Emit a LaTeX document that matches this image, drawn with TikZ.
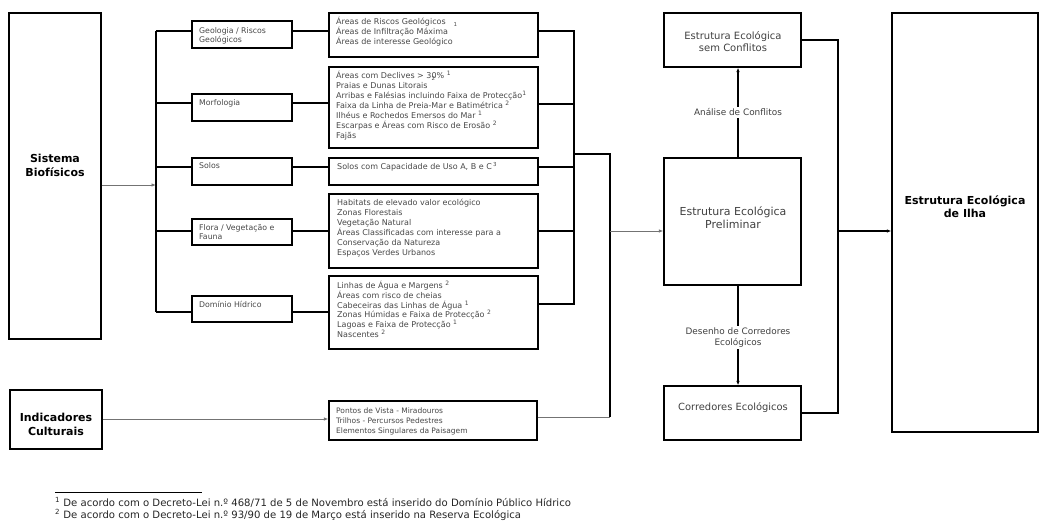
\documentclass[tikz,border=0pt]{standalone}
\usepackage{fontspec}
\setmainfont{DejaVu Sans}
\usetikzlibrary{arrows.meta}
\begin{document}
\begin{tikzpicture}[x=1pt,y=-1pt,
  box/.style={draw, line width=1.2pt, inner sep=0pt},
  conn/.style={line width=1.1pt},
  thinconn/.style={line width=0.9pt, draw=black!55},
  arr/.style={-{Latex[length=4.5pt,width=3.5pt]}},
  title/.style={align=center, inner sep=0pt, font=\fontsize{11}{13.5}\selectfont\bfseries},
  mid/.style={align=center, inner sep=0pt, text=black!75},
  lbl/.style={fill=white, align=center, inner sep=2pt, text=black!75, font=\fontsize{8.9}{11}\selectfont},
  lst/.style={anchor=north west, align=left, inner sep=0pt, text=black!72, font=\fontsize{8}{10.2}\selectfont},
  sml/.style={anchor=north west, align=left, inner sep=0pt, text=black!72, font=\fontsize{7.8}{9.5}\selectfont},
  foot/.style={anchor=base west, inner sep=0pt, text=black!85, font=\fontsize{10.1}{12}\selectfont}
]
\useasboundingbox (0,0) rectangle (1047,524);

% ---------- boxes ----------
\node[box, minimum width=92pt, minimum height=326pt] (sis) at (55,176) {};
\node[title] (sist) at (55,165.5) {Sistema\\Biofísicos};
\node[box, minimum width=92pt, minimum height=59pt] (ind) at (56,419.5) {};
\node[title] (indt) at (56,424.5) {Indicadores\\Culturais};

\node[box, minimum width=100pt, minimum height=27pt] (geo) at (242,34.5) {};
\node[box, minimum width=100pt, minimum height=27pt] (mor) at (242,107.5) {};
\node[box, minimum width=100pt, minimum height=27pt] (sol) at (242,171.5) {};
\node[box, minimum width=100pt, minimum height=26pt] (flo) at (242,232) {};
\node[box, minimum width=100pt, minimum height=26pt] (dom) at (242,309) {};
\node[sml] (geot) at (199,25.4) {\rule{0pt}{7.5pt}Geologia / Riscos\\Geológicos};
\node[sml] (mort) at (199,97.6) {\rule{0pt}{7.5pt}Morfologia};
\node[sml] (solt) at (199,160.6) {\rule{0pt}{7.5pt}Solos};
\node[sml] (flot) at (199,222.6) {\rule{0pt}{7.5pt}Flora / Vegetação e\\Fauna};
\node[sml] (domt) at (199,299.6) {\rule{0pt}{7.5pt}Domínio Hídrico};

\node[box, minimum width=209pt, minimum height=44pt] (geoL) at (433.5,35) {};
\node[box, minimum width=209pt, minimum height=81pt] (morL) at (433.5,107.5) {};
\node[box, minimum width=209pt, minimum height=27pt] (solL) at (433.5,171.5) {};
\node[box, minimum width=209pt, minimum height=74pt] (floL) at (433.5,231) {};
\node[box, minimum width=209pt, minimum height=73pt] (domL) at (433.5,312.5) {};
\node[box, minimum width=208pt, minimum height=39pt] (indL) at (433,420.5) {};

\node[lst] (geoLt) at (336,16.2) {\rule{0pt}{8pt}Áreas de Riscos Geológicos\quad\raisebox{-2.5pt}{\fontsize{5.5}{5.5}\selectfont 1}\\Áreas de Infiltração Máxima\\Áreas de interesse Geológico};
\node[lst, font=\fontsize{8}{10}\selectfont] (morLt) at (336,70.2) {\rule{0pt}{8pt}Áreas com Declives > 3\rlap{\raisebox{-2.5pt}{\fontsize{5.5}{5.5}\selectfont 2}}0\% \textsuperscript{1}\\Praias e Dunas Litorais\\Arribas e Falésias incluindo Faixa de Protecção\textsuperscript{1}\\Faixa da Linha de Preia-Mar e Batimétrica \textsuperscript{2}\\Ilhéus e Rochedos Emersos do Mar \textsuperscript{1}\\Escarpas e Áreas com Risco de Erosão \textsuperscript{2}\\Fajãs};
\node[lst] (solLt) at (337,161.2) {\rule{0pt}{8pt}Solos com Capacidade de Uso A, B e C\,\raisebox{3pt}{\fontsize{5.5}{5.5}\selectfont 3}};
\node[lst, font=\fontsize{8}{10}\selectfont] (floLt) at (337,197.2) {\rule{0pt}{8pt}Habitats de elevado valor ecológico\\Zonas Florestais\\Vegetação Natural\\Áreas Classificadas com interesse para a\\Conservação da Natureza\\Espaços Verdes Urbanos};
\node[lst, font=\fontsize{8}{9.8}\selectfont] (domLt) at (337,280.2) {\rule{0pt}{8pt}Linhas de Água e Margens \textsuperscript{2}\\Áreas com risco de cheias\\Cabeceiras das Linhas de Água \textsuperscript{1}\\Zonas Húmidas e Faixa de Protecção \textsuperscript{2}\\Lagoas e Faixa de Protecção \textsuperscript{1}\\Nascentes \textsuperscript{2}};
\node[lst, font=\fontsize{7.5}{10}\selectfont] (indLt) at (336,405) {\rule{0pt}{8pt}Pontos de Vista - Miradouros\\Trilhos - Percursos Pedestres\\Elementos Singulares da Paisagem};

\node[box, minimum width=137pt, minimum height=54pt] (sem) at (732.5,40) {};
\node[mid, font=\fontsize{10}{12}\selectfont] (semt) at (733,42) {Estrutura Ecológica\\sem Conflitos};
\node[box, minimum width=137pt, minimum height=127pt] (prel) at (732.5,221.5) {};
\node[mid, font=\fontsize{11}{13}\selectfont] (prelt) at (733,217.5) {Estrutura Ecológica\\Preliminar};
\node[box, minimum width=137pt, minimum height=54pt] (cor) at (732.5,413) {};
\node[mid, font=\fontsize{9.9}{12}\selectfont] (cort) at (733,408) {Corredores Ecológicos};
\node[box, minimum width=146pt, minimum height=419pt] (ilha) at (965,222.5) {};
\node[title] (ilhat) at (965,206.5) {Estrutura Ecológica\\de Ilha};

% ---------- helper coordinates ----------
\coordinate (b1t) at (156,31);  \coordinate (b1b) at (156,312);
\coordinate (b2t) at (574,31);  \coordinate (b2b) at (574,304);
\coordinate (b3t) at (610,154); \coordinate (b3b) at (610,417);
\coordinate (b4t) at (838,40);  \coordinate (b4b) at (838,413);
\coordinate (rl2) at (0,103); \coordinate (rl3) at (0,167); \coordinate (rl4) at (0,231); \coordinate (rl5) at (0,312);
\coordinate (rr2) at (0,104); \coordinate (rr3) at (0,167); \coordinate (rr4) at (0,231); \coordinate (rr5) at (0,304);
\coordinate (rs) at (0,185); \coordinate (ri) at (0,419); \coordinate (ax) at (738,0);

% ---------- connectors ----------
\draw[thinconn, arr] (sis.east |- rs) -- (b1t |- rs);
\draw[conn] (b1t) -- (b1b);
\draw[conn] (b1t) -- (geo.west |- b1t);
\draw[conn] (b1t |- rl2) -- (mor.west |- rl2);
\draw[conn] (b1t |- rl3) -- (sol.west |- rl3);
\draw[conn] (b1t |- rl4) -- (flo.west |- rl4);
\draw[conn] (b1b) -- (dom.west |- b1b);

\draw[conn] (geo.east |- b1t) -- (geoL.west |- b1t);
\draw[conn] (mor.east |- rl2) -- (morL.west |- rl2);
\draw[conn] (sol.east |- rl3) -- (solL.west |- rl3);
\draw[conn] (flo.east |- rl4) -- (floL.west |- rl4);
\draw[conn] (dom.east |- rl5) -- (domL.west |- rl5);

\draw[conn] (geoL.east |- b2t) -- (b2t) -- (b2b) -- (domL.east |- b2b);
\draw[conn] (morL.east |- rr2) -- (b2t |- rr2);
\draw[conn] (solL.east |- rr3) -- (b2t |- rr3);
\draw[conn] (floL.east |- rr4) -- (b2t |- rr4);

\draw[thinconn, arr] (ind.east |- ri) -- (indL.west |- ri);
\draw[conn] (b2t |- b3t) -- (b3t) -- (b3b);
\draw[thinconn] (indL.east |- b3b) -- (b3b);
\draw[thinconn, arr] (b3t |- rr4) -- (prel.west |- rr4);

\draw[conn, arr] (prel.north -| ax) -- node[lbl] (lab1) {Análise de Conflitos} (sem.south -| ax);
\draw[conn, arr] (prel.south -| ax) -- node[lbl, yshift=-2pt] (lab2) {Desenho de Corredores\\Ecológicos} (cor.north -| ax);

\draw[conn] (sem.east) -- (b4t) -- (b4b) -- (cor.east);
\draw[conn, arr] (b4t |- rr4) -- (ilha.west |- rr4);

% ---------- footnotes ----------
\coordinate (fr1) at (55,492); \coordinate (fr2) at (202,492);
\draw[line width=0.7pt] (fr1) -- (fr2);
\node[foot] (fn1) at (55,506) {\textsuperscript{1} De acordo com o Decreto-Lei n.º 468/71 de 5 de Novembro está inserido do Domínio Público Hídrico};
\node[foot] (fn2) at (55,518) {\textsuperscript{2} De acordo com o Decreto-Lei n.º 93/90 de 19 de Março está inserido na Reserva Ecológica};
\end{tikzpicture}
\end{document}
